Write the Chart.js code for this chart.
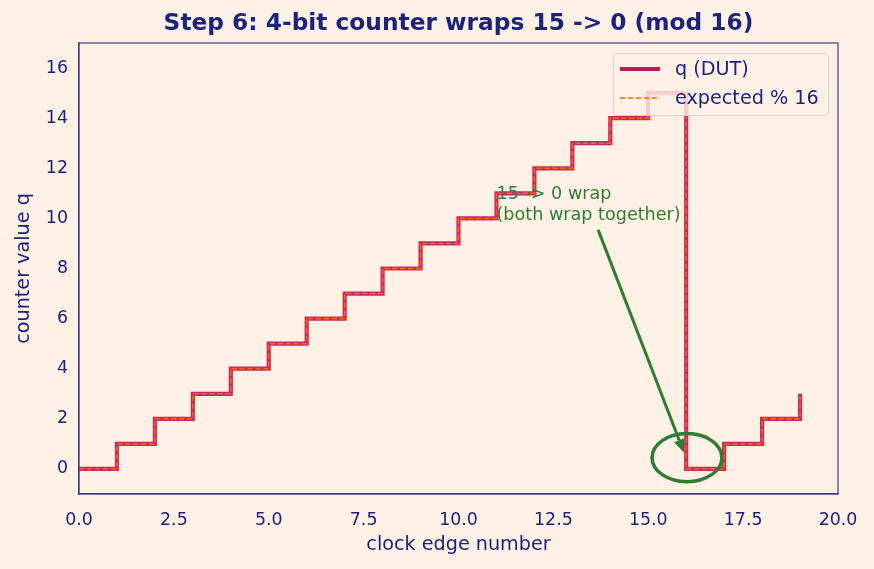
<!DOCTYPE html>
<html><head><meta charset="utf-8">
<script src="https://cdn.jsdelivr.net/npm/chart.js@4/dist/chart.umd.min.js"></script>
<style>html,body{margin:0;padding:0;background:#fdf1e6;}#wrap{width:874px;height:569px;}</style>
</head><body><div id="wrap"><canvas id="c" width="874" height="569"></canvas></div>
<script>
const clockEdges = [0,1,2,3,4,5,6,7,8,9,10,11,12,13,14,15,16,17,18,19];
const qDUT       = [0,1,2,3,4,5,6,7,8,9,10,11,12,13,14,15,0,1,2,3];
const expected16 = [0,1,2,3,4,5,6,7,8,9,10,11,12,13,14,15,0,1,2,3];
const xTicks = [0,2.5,5,7.5,10,12.5,15,17.5,20];
const yTicks = [0,2,4,6,8,10,12,14,16];
const titleText = "Step 6: 4-bit counter wraps 15 -> 0 (mod 16)";
const annText = ["15 -> 0 wrap","(both wrap together)"];

const NAVY = '#1a237e';
const SPINE = '#3a3a8c';
const CRIMSON = '#c2185b';
const ORANGE = '#ef6c00';
const GREEN = '#2e7d32';
const BG = '#fdf1e6';
const FONT = "'DejaVu Sans', sans-serif";

const overlay = {
  id: 'overlay',
  beforeDraw(chart) {
    const {ctx} = chart;
    ctx.save(); ctx.fillStyle = BG; ctx.fillRect(0,0,chart.width,chart.height); ctx.restore();
  },
  afterDraw(chart) {
    const {ctx, chartArea:a, scales:{x,y}} = chart;
    ctx.save();
    // title
    ctx.fillStyle = NAVY; ctx.font = "bold 23.3px " + FONT; ctx.textAlign = 'center'; ctx.textBaseline = 'alphabetic';
    ctx.fillText(titleText, (a.left+a.right)/2, 30);
    ctx.textAlign = 'left';
    // spines
    ctx.strokeStyle = SPINE; ctx.lineWidth = 1.2;
    ctx.strokeRect(a.left, a.top, a.right-a.left, a.bottom-a.top);
    // annotation text
    ctx.fillStyle = GREEN; ctx.font = "17.6px " + FONT;
    ctx.fillText(annText[0], x.getPixelForValue(11), y.getPixelForValue(10.77));
    ctx.fillText(annText[1], x.getPixelForValue(11), y.getPixelForValue(9.94));
    // arrow
    const x0 = x.getPixelForValue(13.68), y0 = y.getPixelForValue(9.54);
    const x1 = x.getPixelForValue(15.94), y1 = y.getPixelForValue(0.66);
    ctx.strokeStyle = GREEN; ctx.fillStyle = GREEN; ctx.lineWidth = 3;
    const ang = Math.atan2(y1-y0, x1-x0);
    const hl = 13, hw = 5.5;
    const bx = x1 - hl*Math.cos(ang), by = y1 - hl*Math.sin(ang);
    ctx.beginPath(); ctx.moveTo(x0,y0); ctx.lineTo(bx,by); ctx.stroke();
    ctx.beginPath(); ctx.moveTo(x1,y1);
    ctx.lineTo(bx + hw*Math.sin(ang), by - hw*Math.cos(ang));
    ctx.lineTo(bx - hw*Math.sin(ang), by + hw*Math.cos(ang));
    ctx.closePath(); ctx.fill();
    // ellipse
    const cx = x.getPixelForValue(16.02), cy = y.getPixelForValue(0.45);
    const rx = Math.abs(x.getPixelForValue(16.02+0.92)-cx), ry = Math.abs(y.getPixelForValue(0.45+0.96)-cy);
    ctx.lineWidth = 3.5; ctx.beginPath(); ctx.ellipse(cx,cy,rx,ry,0,0,Math.PI*2); ctx.stroke();
    // legend
    const lx = 613, ly = 53, lw = 215, lh = 62;
    ctx.fillStyle = 'rgba(253,241,230,0.8)';
    ctx.strokeStyle = 'rgba(215,205,200,0.9)'; ctx.lineWidth = 1;
    ctx.beginPath(); ctx.roundRect(lx+0.5, ly+0.5, lw, lh, 3); ctx.fill(); ctx.stroke();
    ctx.strokeStyle = CRIMSON; ctx.lineWidth = 4; ctx.setLineDash([]);
    ctx.beginPath(); ctx.moveTo(620,69); ctx.lineTo(660,69); ctx.stroke();
    ctx.strokeStyle = ORANGE; ctx.lineWidth = 1.5; ctx.setLineDash([5.5,2.4]);
    ctx.beginPath(); ctx.moveTo(620,98); ctx.lineTo(660,98); ctx.stroke();
    ctx.setLineDash([]);
    ctx.fillStyle = NAVY; ctx.font = "19.2px " + FONT; ctx.textBaseline = 'middle';
    ctx.fillText('q (DUT)', 675, 70);
    ctx.fillText('expected % 16', 675, 99);
    ctx.restore();
  }
};

new Chart(document.getElementById('c'), {
  type: 'line',
  data: {
    datasets: [
      { label: 'q (DUT)', data: clockEdges.map((e,i)=>({x:e,y:qDUT[i]})), stepped: 'before',
        borderColor: 'rgba(194,24,91,0.92)', borderWidth: 4.2, pointRadius: 0, fill: false, order: 2 },
      { label: 'expected % 16', data: clockEdges.map((e,i)=>({x:e,y:expected16[i]})), stepped: 'before',
        borderColor: ORANGE, borderWidth: 1.5, borderDash: [5.5,2.4], pointRadius: 0, fill: false, order: 1 }
    ]
  },
  options: {
    responsive: false, animation: false, devicePixelRatio: 1,
    layout: { padding: { left: 0, right: 36, top: 43, bottom: 0 } },
    plugins: {
      legend: { display: false }, tooltip: { enabled: false }, title: { display: false }
    },
    scales: {
      x: { type: 'linear', min: 0, max: 20,
        afterBuildTicks: s => { s.ticks = xTicks.map(v=>({value:v})); },
        afterFit: s => { s.height = 75; },
        ticks: { color: NAVY, font: { family: FONT, size: 17.4 }, callback: v => v.toFixed(1), padding: 10, maxRotation: 0, autoSkip: false },
        grid: { display: false, drawTicks: true, tickLength: 6, tickColor: SPINE, tickWidth: 1.2 },
        border: { color: SPINE, width: 1.2 },
        title: { display: true, text: 'clock edge number', color: NAVY, font: { family: FONT, size: 19.2 }, padding: { top: 3, bottom: 12 } } },
      y: { type: 'linear', min: -1, max: 17,
        afterBuildTicks: s => { s.ticks = yTicks.map(v=>({value:v})); },
        afterFit: s => { s.width = 79; },
        ticks: { color: NAVY, font: { family: FONT, size: 17.4 }, padding: 5, autoSkip: false },
        grid: { display: false, drawTicks: true, tickLength: 6, tickColor: SPINE, tickWidth: 1.2 },
        border: { color: SPINE, width: 1.2 },
        title: { display: true, text: 'counter value q', color: NAVY, font: { family: FONT, size: 19.2 }, padding: { top: 12, bottom: 0 } } }
    }
  },
  plugins: [overlay]
});
</script></body></html>
